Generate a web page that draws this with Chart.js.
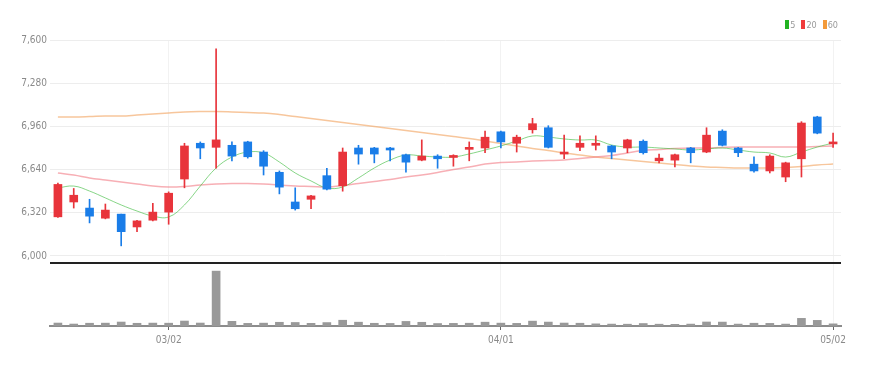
<!DOCTYPE html>
<html>
<head>
<meta charset="utf-8">
<script src="https://cdn.jsdelivr.net/npm/chart.js@4.4.0/dist/chart.umd.min.js"></script>
<style>
html, body { margin: 0; padding: 0; background: #fff; }
#wrap { position: relative; width: 870px; height: 366px; }
#legend { position: absolute; top: 19px; right: 32px; font: condensed 9px "Liberation Sans Narrow", "DejaVu Sans", sans-serif; font-stretch: condensed; color: #999; line-height: 12px; }
#legend .sw { display: inline-block; width: 4px; height: 9px; margin: 0 1px 0 6px; vertical-align: -1px; }
</style>
</head>
<body>
<div id="wrap"><canvas id="chart1" width="870" height="366"></canvas><div id="legend"></div></div>
<script>
var dates = ['02/18','02/21','02/22','02/23','02/24','02/25','02/28',
	'03/02','03/03','03/04','03/07','03/08','03/10','03/11','03/14','03/15','03/16','03/17','03/18',
	'03/21','03/22','03/23','03/24','03/25','03/28','03/29','03/30','03/31',
	'04/01','04/04','04/05','04/06','04/07','04/08','04/11','04/12','04/13','04/14','04/15',
	'04/18','04/19','04/20','04/21','04/22','04/25','04/26','04/27','04/28','04/29','05/02'];
var tickDates = ['03/02', '04/01', '05/02'];
var priceTicks = [6000, 6320, 6640, 6960, 7280, 7600];

var opens  = [6290,6400,6355,6280,6310,6215,6265,6325,6570,6835,6805,6820,6845,6770,6620,6400,6420,6595,6520,6800,6800,6800,6750,6710,6740,6730,6790,6800,6920,6835,6935,6950,6755,6805,6820,6815,6800,6850,6705,6710,6800,6770,6925,6800,6680,6630,6585,6720,7030,6830];
var highs  = [6540,6500,6420,6385,6310,6265,6390,6475,6835,6845,7535,6845,6850,6780,6630,6505,6450,6650,6800,6820,6805,6805,6755,6860,6750,6750,6845,6925,6925,6895,7020,6965,6895,6890,6890,6820,6865,6860,6755,6755,6805,6950,6935,6805,6735,6750,6695,6995,7035,6910];
var lows   = [6285,6355,6245,6275,6075,6180,6260,6235,6505,6720,6650,6705,6725,6600,6460,6340,6350,6490,6480,6680,6690,6705,6620,6705,6650,6665,6705,6765,6800,6770,6910,6800,6720,6780,6785,6720,6765,6755,6690,6660,6690,6765,6815,6735,6620,6615,6550,6585,6905,6805];
var closes = [6530,6450,6295,6340,6180,6260,6325,6465,6815,6800,6860,6740,6735,6665,6510,6350,6445,6495,6770,6755,6755,6785,6695,6740,6720,6740,6800,6880,6845,6880,6980,6805,6770,6835,6835,6770,6860,6765,6725,6750,6765,6895,6820,6765,6630,6740,6690,6985,6910,6845];
var volumes = [62000,41000,58000,60000,83000,57000,61000,59000,104000,62000,1150000,98000,55000,60000,78000,74000,56000,72000,121000,80000,57000,54000,96000,78000,52000,55000,58000,80000,60000,55000,102000,82000,62000,58000,45000,40000,38000,52000,38000,35000,40000,84000,82000,40000,58000,55000,40000,160000,118000,45000];

var maPeriods = ['5', '20', '60'];
var ma5  = [6504,6518,6481,6430,6378,6333,6296,6289,6378,6518,6652,6733,6770,6763,6696,6615,6556,6504,6511,6578,6652,6711,6748,6741,6733,6733,6756,6785,6815,6852,6889,6881,6867,6859,6859,6822,6807,6807,6800,6793,6785,6793,6800,6785,6770,6763,6733,6770,6807,6837];
var ma20 = [6615,6600,6578,6563,6548,6533,6518,6511,6515,6526,6533,6537,6537,6533,6526,6518,6515,6511,6522,6537,6552,6567,6585,6600,6619,6641,6659,6681,6693,6696,6704,6707,6711,6722,6733,6744,6763,6781,6789,6796,6800,6800,6804,6807,6807,6807,6807,6807,6811,6815];
var ma60 = [7030,7030,7033,7037,7037,7044,7052,7059,7067,7070,7070,7067,7063,7059,7048,7033,7019,7004,6989,6974,6959,6944,6930,6915,6900,6885,6870,6852,6833,6815,6796,6781,6763,6748,6733,6722,6711,6700,6689,6678,6667,6659,6656,6652,6652,6652,6656,6663,6674,6681];

var priceMin = 5948;
var UP = '#e8343b', DOWN = '#1a7de8';
var legendColors = ['#22b322', '#f03c3c', '#f39a3a'];
var lineColors = ['rgba(70,190,70,0.65)', 'rgba(240,110,120,0.55)', 'rgba(242,160,90,0.6)'];
// 'condensed' goes into the weight slot so the canvas font string picks the narrow face
var axisFont = { family: '"Liberation Sans Narrow", "DejaVu Sans", sans-serif', size: 10, weight: 'condensed' };

var candleColors = closes.map(function(c, i) { return c >= opens[i] ? UP : DOWN; });
var wicks = lows.map(function(l, i) { return [l, highs[i]]; });
var bodies = opens.map(function(o, i) { return [o, closes[i]]; });

var legend = document.getElementById('legend');
maPeriods.forEach(function(p, i) {
	legend.innerHTML += '<span class="sw" style="background:' + legendColors[i] + '"></span>' + p;
});

function isTickDate(i) {
	return tickDates.indexOf(dates[i]) >= 0;
}

var ctx = document.getElementById('chart1').getContext('2d');
new Chart(ctx, {
	type: 'bar',
	data: {
		labels: dates,
		datasets: [{
			type: 'line', label: maPeriods[0], data: ma5,
			borderColor: lineColors[0], borderWidth: 1, pointRadius: 0, tension: 0.4, order: 10, yAxisID: 'y'
		}, {
			type: 'line', label: maPeriods[1], data: ma20,
			borderColor: lineColors[1], borderWidth: 1.5, pointRadius: 0, tension: 0.4, order: 11, yAxisID: 'y'
		}, {
			type: 'line', label: maPeriods[2], data: ma60,
			borderColor: lineColors[2], borderWidth: 1.5, pointRadius: 0, tension: 0.4, order: 12, yAxisID: 'y'
		}, {
			label: 'wick', data: wicks, backgroundColor: candleColors,
			barThickness: 1, grouped: false, order: 2, yAxisID: 'y'
		}, {
			label: 'body', data: bodies, backgroundColor: candleColors,
			barThickness: 8, minBarLength: 2, grouped: false, order: 1, yAxisID: 'y'
		}, {
			label: 'volume', data: volumes, backgroundColor: '#999999',
			barThickness: 8, grouped: false, order: 3, yAxisID: 'y2'
		}]
	},
	options: {
		responsive: false,
		animation: false,
		layout: { padding: { top: 40, right: 29, left: 0, bottom: 0 } },
		plugins: { legend: { display: false }, tooltip: { enabled: false } },
		scales: {
			x: {
				offset: true,
				grid: {
					offset: false,
					tickLength: 4,
					color: function(c) { return isTickDate(c.index) ? '#f2f2f2' : 'rgba(0,0,0,0)'; },
					tickColor: function(c) { return isTickDate(c.index) ? '#666' : 'rgba(0,0,0,0)'; }
				},
				border: { color: '#8c8c8c', width: 2 },
				ticks: {
					autoSkip: false, maxRotation: 0, padding: 4, color: '#8a8a8a', font: axisFont,
					callback: function(v, i) { return isTickDate(i) ? dates[i] : ''; }
				},
				afterFit: function(s) { s.height = 40; }
			},
			y: {
				type: 'linear', position: 'left', stack: 'main', stackWeight: 223, weight: 1,
				min: priceMin, max: 7600,
				afterBuildTicks: function(s) {
					s.ticks = [{ value: priceMin }].concat(priceTicks.map(function(v) { return { value: v }; }));
				},
				ticks: {
					padding: 3, color: '#8a8a8a', font: axisFont,
					callback: function(v) { return v === priceMin ? '' : v.toLocaleString('en-US'); }
				},
				grid: {
					drawTicks: false,
					color: function(c) { return c.tick && c.tick.value === priceMin ? '#222' : '#ededed'; },
					lineWidth: function(c) { return c.tick && c.tick.value === priceMin ? 2 : 1; }
				},
				border: { display: false },
				afterFit: function(s) { s.width = 50; }
			},
			y2: {
				type: 'linear', position: 'left', stack: 'main', stackWeight: 63, weight: 0,
				min: 0, max: 1320000,
				ticks: { display: false },
				grid: { display: false },
				border: { display: false },
				afterFit: function(s) { s.width = 50; }
			}
		}
	}
});
</script>
</body>
</html>
